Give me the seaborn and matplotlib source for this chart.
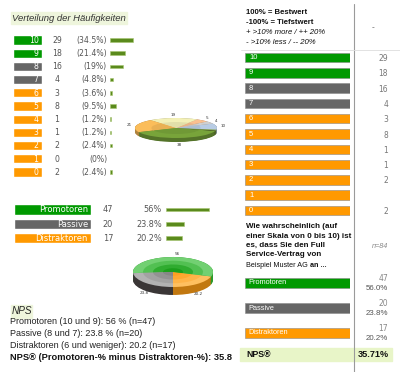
import numpy as np
import pandas as pd
import matplotlib
matplotlib.use('Agg')
import matplotlib.pyplot as plt
import seaborn as sns
from matplotlib.colors import to_rgb
from matplotlib.patches import Rectangle

sns.set_theme(style='white')
plt.rcParams['font.family'] = ['DejaVu Sans']

# ---------------- data ----------------
scores = ['10', '9', '8', '7', '6', '5', '4', '3', '2', '1', '0']
counts = [29, 18, 16, 4, 3, 8, 1, 1, 2, 0, 2]
pcts = [34.5, 21.4, 19, 4.8, 3.6, 9.5, 1.2, 1.2, 2.4, 0, 2.4]
pct_labels = ['(34.5%)', '(21.4%)', '(19%)', '(4.8%)', '(3.6%)', '(9.5%)',
              '(1.2%)', '(1.2%)', '(2.4%)', '(0%)', '(2.4%)']
right_counts = ['29', '18', '16', '4', '3', '8', '1', '1', '2', '', '2']
groups = ['Promotoren', 'Passive', 'Distraktoren']
group_counts = [47, 20, 17]
group_pcts = [56, 23.8, 20.2]
group_pct_labels = ['56%', '23.8%', '20.2%']
group_pct_right = ['56.0%', '23.8%', '20.2%']
pie1_values = [10, 4, 5, 19, 21, 38, 1, 1]
pie1_labels = ['10', '4', '5', '19', '21', '38', '', '']
pie2_values = [20.2, 56, 23.8]
pie2_labels = ['20.2', '56', '23.8']
nps_lines = ['Promotoren (10 und 9): 56 % (n=47)',
             'Passive (8 und 7): 23.8 % (n=20)',
             'Distraktoren (6 und weniger): 20.2 (n=17)']
nps_bold = 'NPS® (Promotoren-% minus Distraktoren-%): 35.8'
nps_value = '35.71%'
n_total = 84

GREEN, GRAY, ORANGE = '#009900', '#666666', '#ff9900'
score_colors = {s: (GREEN if s in ('10', '9') else GRAY if s in ('8', '7') else ORANGE)
                for s in scores}
group_colors = {'Promotoren': GREEN, 'Passive': GRAY, 'Distraktoren': ORANGE}

W, H = 400, 372
fig = plt.figure(figsize=(W / 100, H / 100), dpi=100)
fig.patch.set_facecolor('white')

ov = fig.add_axes([0, 0, 1, 1], zorder=10)
ov.set_xlim(0, W)
ov.set_ylim(H, 0)
ov.set_axis_off()
ov.patch.set_alpha(0)


def px_axes(x0, y0, x1, y1, z=1):
    ax = fig.add_axes([x0 / W, 1 - y1 / H, (x1 - x0) / W, (y1 - y0) / H], zorder=z)
    ax.patch.set_alpha(0)
    return ax


def finish(ax, n, xlim):
    ax.set_xlim(*xlim)
    ax.set_ylim(n - 0.5, -0.5)
    ax.set_axis_off()


ARIAL = ['Liberation Sans', 'DejaVu Sans']
VERD = ['DejaVu Sans']

# ---------------- left frequency table ----------------
ov.add_patch(Rectangle((11, 12), 116, 12, color='#eef5dc', zorder=0))
ov.text(12, 18.5, 'Verteilung der Häufigkeiten', ha='left', va='center', style='italic',
        fontsize=6.8, family=ARIAL, color='#333333')

c0, sp = 40, 13.2
df_s = pd.DataFrame({'score': scores, 'one': [1] * len(scores), 'pct': pcts})
axb = px_axes(13, c0 - sp / 2, 42, c0 + sp * (len(scores) - 0.5))
sns.barplot(data=df_s, x='one', y='score', hue='score', palette=score_colors, order=scores,
            hue_order=scores, orient='h', width=0.7, dodge=False, legend=False, saturation=1,
            ax=axb)
finish(axb, len(scores), (0, 1))

axm = px_axes(110, c0 - sp / 2, 178, c0 + sp * (len(scores) - 0.5))
sns.barplot(data=df_s, x='pct', y='score', order=scores, orient='h', width=0.26,
            color='#5a8a1c', saturation=1, edgecolor='#a6c470', linewidth=0.4, ax=axm)
for p in axm.patches:
    if p.get_width() == 0:
        p.set_visible(False)
finish(axm, len(scores), (0, 100))

for i, s in enumerate(scores):
    y = c0 + sp * i
    ov.text(38.5, y + 0.3, s, ha='right', va='center', color='white', fontsize=5.6, family=VERD)
    ov.text(57, y + 0.3, str(counts[i]), ha='center', va='center', color='#555555',
            fontsize=5.6, family=VERD)
    ov.text(107, y + 0.3, pct_labels[i], ha='right', va='center', color='#555555',
            fontsize=5.6, family=VERD)

# ---------------- left group table ----------------
g0, gsp = 209.5, 14.3
df_g = pd.DataFrame({'group': groups, 'one': [1] * 3, 'pct': group_pcts})
axgb = px_axes(14, g0 - gsp / 2, 91, g0 + gsp * 2.5)
sns.barplot(data=df_g, x='one', y='group', hue='group', palette=group_colors, order=groups,
            hue_order=groups, orient='h', width=0.72, dodge=False, legend=False, saturation=1,
            ax=axgb)
finish(axgb, 3, (0, 1))

axgm = px_axes(166, g0 - gsp / 2, 243, g0 + gsp * 2.5)
sns.barplot(data=df_g, x='pct', y='group', order=groups, orient='h', width=0.24,
            color='#5a8a1c', saturation=1, edgecolor='#a6c470', linewidth=0.4, ax=axgm)
finish(axgm, 3, (0, 100))

for i, g in enumerate(groups):
    y = g0 + gsp * i
    ov.text(88, y + 0.3, g, ha='right', va='center', color='white', fontsize=6, family=VERD)
    ov.text(108, y + 0.3, str(group_counts[i]), ha='center', va='center', color='#555555',
            fontsize=5.9, family=VERD)
    ov.text(162, y + 0.3, group_pct_labels[i], ha='right', va='center', color='#555555',
            fontsize=5.9, family=VERD)


# ---------------- pies ----------------
def darker(c, f):
    r, g, b = to_rgb(c)
    return (r * f, g * f, b * f)


def pie3d(ax, values, tops, sides, start, depth, labels, rx, ry, rings=None):
    for d in np.linspace(depth, 0, 12):
        ax.pie(values, colors=sides, startangle=start, center=(0, -d),
               wedgeprops=dict(linewidth=0))
    ax.pie(values, colors=tops, startangle=start, wedgeprops=dict(linewidth=0))
    if rings:
        for r, cols in rings:
            ax.pie(values, colors=cols, startangle=start, radius=r,
                   wedgeprops=dict(linewidth=0))
    ax.set_aspect('auto')
    ax.set_xlim(-1.05, 1.05)
    ax.set_ylim(-1 - depth - 0.05, 1.05)
    tot = float(sum(values))
    cum = 0
    for v, lab in zip(values, labels):
        mid = np.deg2rad(start + 360 * (cum + v / 2) / tot)
        cum += v
        if not lab:
            continue
        x = rx * np.cos(mid)
        y = ry * np.sin(mid)
        if np.sin(mid) < -0.3:
            y -= depth
        ax.text(x, y, lab, ha='center', va='center', fontsize=3, color='#333333',
                clip_on=False)
    ax.set_axis_off()


# pie 1: center (176,128), semi axes 41 x 10, depth 4 px
d1 = 0.4
ax_p1 = px_axes(176 - 1.05 * 41, 128 - 1.05 * 10, 176 + 1.05 * 41, 128 + (1 + d1 + 0.05) * 10)
p1_top = ['#b8cce4', '#cfcfcf', '#fac090', '#f3f0b6', '#fbbd5a', '#78a43a', '#4f6228', '#9bbb59']
p1_side = [darker(c, 0.7) for c in p1_top]
pie3d(ax_p1, pie1_values, p1_top, p1_side, -10, d1, pie1_labels, 1.17, 1.35,
      rings=[(0.6, [darker(c, 0.93) for c in p1_top])])

# pie 2: center (173,272), semi axes 40 x 15, depth 8 px
d2 = 0.53
ax_p2 = px_axes(173 - 1.05 * 40, 272 - 1.05 * 15, 173 + 1.05 * 40, 272 + (1 + d2 + 0.05) * 15)
p2_top = ['#ffc060', '#72d072', '#b2b2b2']
p2_side = ['#c27810', '#2a9a2a', '#3a3636']
pie3d(ax_p2, pie2_values, p2_top, p2_side, -90, d2, pie2_labels, 1.05, 1.2,
      rings=[(0.75, ['#ffb448', '#52c052', '#a2a2a2']),
             (0.5, ['#ffa830', '#30ac30', '#929292']),
             (0.25, ['#ff9f20', '#1c9e1c', '#868686'])])

# ---------------- NPS text ----------------
ov.add_patch(Rectangle((11, 305), 21, 12.5, color='#eef5dc', zorder=0))
ov.text(12, 311.5, 'NPS', ha='left', va='center', style='italic', fontsize=7.2,
        family=ARIAL, color='#222222')
for k, line in enumerate(nps_lines):
    ov.text(10, 321.5 + 11.8 * k, line, ha='left', va='center', fontsize=6.5,
            family=ARIAL, color='#222222')
ov.text(10, 357, nps_bold, ha='left', va='center', fontsize=6.7, family=ARIAL,
        weight='bold', color='#111111')

# ---------------- right table ----------------
ov.plot([354, 354], [4, 372], color='#9a9a9a', lw=0.8)
ov.plot([241, 400], [49.5, 49.5], color='#dddddd', lw=0.6)
hdr = [('100% = Bestwert', 'bold', 'normal'), ('-100% = Tiefstwert', 'bold', 'normal'),
       ('+ >10% more / ++ 20%', 'normal', 'italic'), ('- >10% less / -- 20%', 'normal', 'italic')]
for k, (t, w, st) in enumerate(hdr):
    ov.text(246, 13 + 9.7 * k, t, ha='left', va='center', fontsize=5.6, family=ARIAL,
            weight=w, style=st, color='#111111')
ov.text(373, 28, '-', ha='center', va='center', fontsize=6, family=ARIAL, color='#555555')

r0, rsp = 57.5, 15.3
axr = px_axes(245, r0 - rsp / 2, 350, r0 + rsp * (len(scores) - 0.5))
sns.barplot(data=df_s, x='one', y='score', hue='score', palette=score_colors, order=scores,
            hue_order=scores, orient='h', width=0.62, dodge=False, legend=False, saturation=1,
            edgecolor='#8a8a8a', linewidth=0.4, ax=axr)
finish(axr, len(scores), (0, 1))
for i, s in enumerate(scores):
    y = r0 + rsp * i
    ov.text(249, y, s, ha='left', va='center', color='white', fontsize=5.5, family=ARIAL)
    ov.text(388, y + 1, right_counts[i], ha='right', va='center', color='#777777',
            fontsize=5.5, family=VERD)

q_lines = ['Wie wahrscheinlich (auf', 'einer Skala von 0 bis 10) ist', 'es, dass Sie den Full',
           'Service-Vertrag von']
for k, t in enumerate(q_lines):
    ov.text(246, 227 + 9.2 * k, t, ha='left', va='center', fontsize=5.8, family=ARIAL,
            weight='bold', color='#111111')
ov.text(246, 265.5, 'Beispiel Muster AG', ha='left', va='center', fontsize=5.2,
        family=ARIAL, color='#111111')
ov.text(310, 265.5, 'an ...', ha='left', va='center', fontsize=5.2, family=ARIAL,
        weight='bold', color='#111111')
ov.text(388, 246, f'n={n_total}', ha='right', va='center', fontsize=5.2, family=ARIAL,
        style='italic', color='#888888')

q0, qsp = 283, 25
axq = px_axes(245, q0 - qsp / 2, 350, q0 + qsp * 2.5)
sns.barplot(data=df_g, x='one', y='group', hue='group', palette=group_colors, order=groups,
            hue_order=groups, orient='h', width=0.42, dodge=False, legend=False, saturation=1,
            edgecolor='#8a8a8a', linewidth=0.4, ax=axq)
finish(axq, 3, (0, 1))
for i, g in enumerate(groups):
    y = q0 + qsp * i
    ov.text(248, y, g, ha='left', va='center', color='white', fontsize=5.3, family=ARIAL)
    ov.text(388, y - 4.5, str(group_counts[i]), ha='right', va='center', color='#888888',
            fontsize=5.5, family=VERD)
    ov.text(388, y + 5.5, group_pct_right[i], ha='right', va='center', color='#555555',
            fontsize=5.7, family=ARIAL)

ov.add_patch(Rectangle((240, 348), 152, 13, color='#e8f5c8', zorder=0))
ov.text(246, 354.5, 'NPS®', ha='left', va='center', fontsize=6.3, family=ARIAL,
        weight='bold', color='#111111')
ov.text(389, 354.5, nps_value, ha='right', va='center', fontsize=6.6, family=ARIAL,
        weight='bold', color='#111111')

fig.savefig('out.png', dpi=100, facecolor='white')
